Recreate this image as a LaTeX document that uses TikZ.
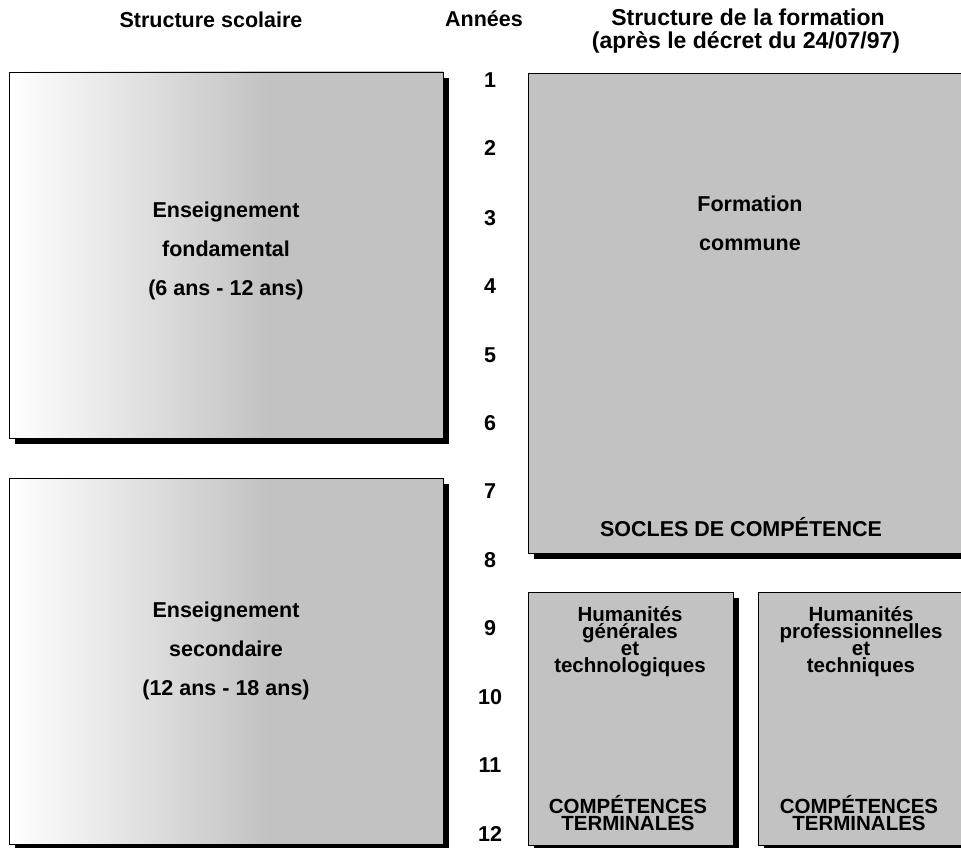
\documentclass[tikz,border=0pt]{standalone}
\usepackage{fontspec}
\setmainfont{Liberation Sans}
\usepackage{tikz}
\usetikzlibrary{shadows}
\definecolor{boxgray}{gray}{0.76}
\pgfdeclarehorizontalshading{leftfade}{100bp}{color(0bp)=(white); color(25bp)=(white); color(55bp)=(boxgray); color(100bp)=(boxgray)}

\begin{document}
\begin{tikzpicture}[x=1pt,y=-1pt,inner sep=0pt,
  box/.style={draw=black,line width=0.8pt,fill=boxgray,
    drop shadow={shadow xshift=6pt,shadow yshift=-6pt,opacity=1,fill=black}},
  fadebox/.style={box,shading=leftfade},
  lbl/.style={anchor=base,font=\bfseries\fontsize{21.5}{21.5}\selectfont},
  head/.style={lbl,font=\bfseries\fontsize{23}{23}\selectfont},
  tight/.style={lbl,font=\bfseries\fontsize{20.5}{20.5}\selectfont,text height=13pt,text depth=2pt}]
\useasboundingbox (0,0) rectangle (961,848);
\clip (0,0) rectangle (961,848);
% boxes
\draw (226,255) node[fadebox,minimum width=434,minimum height=366](fond) {};
\draw (226,661) node[fadebox,minimum width=434,minimum height=366](second) {};
\draw (750,313) node[box,minimum width=444,minimum height=480](commune) {};
\draw (630.5,718.5) node[box,minimum width=205,minimum height=253](humgen) {};
\draw (861,718.5) node[box,minimum width=206,minimum height=253](humpro) {};
% headings
\draw (211,28) node[lbl](head0) {Structure scolaire};
\draw (484,27) node[lbl](head1) {Années};
\draw (748,26) node[head](head2) {Structure de la formation};
\draw (746,49) node[head](head3) {(après le décret du 24/07/97)};
% years
\draw (490,88) node[lbl](yr1) {1};
\draw (490,156) node[lbl](yr2) {2};
\draw (490,225) node[lbl](yr3) {3};
\draw (490,293) node[lbl](yr4) {4};
\draw (490,362) node[lbl](yr5) {5};
\draw (490,430) node[lbl](yr6) {6};
\draw (490,498) node[lbl](yr7) {7};
\draw (490,567) node[lbl](yr8) {8};
\draw (490,635) node[lbl](yr9) {9};
\draw (490,704) node[lbl](yr10) {10};
\draw (490,772) node[lbl](yr11) {11};
\draw (490,841) node[lbl](yr12) {12};
% texts
\draw (226,217) node[lbl](fond0) {Enseignement};
\draw (226,256) node[lbl](fond1) {fondamental};
\draw (226,295) node[lbl](fond2) {(6 ans - 12 ans)};
\draw (226,617) node[lbl](second0) {Enseignement};
\draw (226,656) node[lbl](second1) {secondaire};
\draw (226,695) node[lbl](second2) {(12 ans - 18 ans)};
\draw (750,211) node[lbl](commune0) {Formation};
\draw (750,250) node[lbl](commune1) {commune};
\draw (741,536) node[lbl](commune2) {SOCLES DE COMPÉTENCE};
\draw (630,621) node[tight](humgen0) {Humanités};
\draw (630,638) node[tight](humgen1) {générales};
\draw (630,655) node[tight](humgen2) {et};
\draw (630,672) node[tight](humgen3) {technologiques};
\draw (628,813) node[tight](humgen4) {COMPÉTENCES};
\draw (628,830) node[tight](humgen5) {TERMINALES};
\draw (861,621) node[tight](humpro0) {Humanités};
\draw (861,638) node[tight](humpro1) {professionnelles};
\draw (861,655) node[tight](humpro2) {et};
\draw (861,672) node[tight](humpro3) {techniques};
\draw (859,813) node[tight](humpro4) {COMPÉTENCES};
\draw (859,830) node[tight](humpro5) {TERMINALES};
\end{tikzpicture}
\end{document}
